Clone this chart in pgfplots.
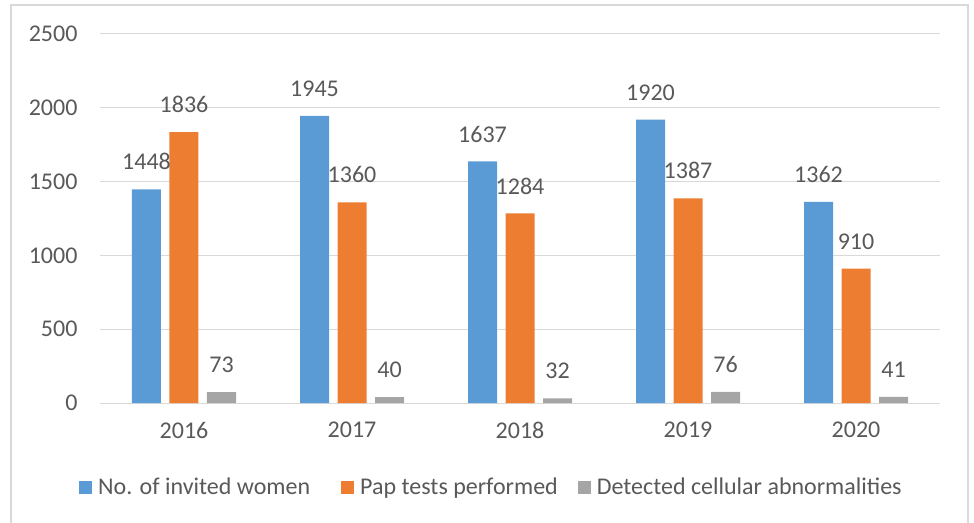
\documentclass[border=0pt]{standalone}
\usepackage{pgfplots}
\pgfplotsset{compat=1.18}
\usepackage{fontspec}
\setmainfont{Carlito}
\definecolor{cblue}{HTML}{5B9BD5}
\definecolor{corange}{HTML}{ED7D31}
\definecolor{cgray}{HTML}{A5A5A5}
\definecolor{ctext}{HTML}{595959}
\definecolor{cgrid}{HTML}{D9D9D9}
\begin{document}
\begin{tikzpicture}
\useasboundingbox (-100pt,-119pt) rectangle (874pt,403pt);
\draw[cgrid, line width=1.2pt] (-89pt,-130pt) rectangle (868pt,398pt);
\begin{axis}[
  at={(0pt,0pt)}, anchor=south west,
  scale only axis, width=840pt, height=369pt,
  ybar=8.5pt, bar width=29pt,
  xmin=-0.5, xmax=4.5, ymin=0, ymax=2500,
  ytick={0,500,...,2500},
  xtick={0,1,2,3,4},
  xticklabels={2016,2017,2018,2019,2020},
  extra x ticks={-0.5,0.5,1.5,2.5,3.5,4.5},
  extra x tick labels={},
  extra x tick style={major tick length=6pt, tick align=outside, tick style={cgrid, line width=1pt}, grid=none},
  major x tick style={draw=none},
  ymajorgrids, grid style={cgrid, line width=1pt},
  axis x line*=bottom, axis y line*=left,
  x axis line style={cgrid, line width=1pt, -},
  y axis line style={draw=none},
  y tick style={draw=none},
  /pgf/number format/assume math mode=true,
  /pgf/number format/set thousands separator={},
  ticklabel style={font=\fontsize{24}{26}\selectfont, text=ctext},
  yticklabel style={xshift=-19pt},
  xticklabel style={yshift=-11pt},
  nodes near coords,
  nodes near coords style={font=\fontsize{24}{26}\selectfont, text=ctext, inner sep=0pt, yshift=19pt, /pgf/number format/set thousands separator={}, /pgf/number format/assume math mode=true},
  legend style={at={(0.466,-0.228)}, anchor=center, draw=none, legend columns=3, font=\fontsize{24}{26}\selectfont, text=ctext,
    /tikz/every odd column/.append style={column sep=4pt},
    /tikz/column 2/.style={column sep=29pt},
    /tikz/column 4/.style={column sep=18pt}},
  legend image code/.code={\fill[#1] (0pt,-6.5pt) rectangle (13pt,6.5pt);},
]
\addplot[fill=cblue, draw=none] coordinates {(0,1448) (1,1945) (2,1637) (3,1920) (4,1362)};
\addplot[fill=corange, draw=none] coordinates {(0,1836) (1,1360) (2,1284) (3,1387) (4,910)};
\addplot[fill=cgray, draw=none] coordinates {(0,73) (1,40) (2,32) (3,76) (4,41)};
\legend{No. of invited women, Pap tests performed, Detected cellular abnormalities}
\end{axis}
\end{tikzpicture}
\end{document}
